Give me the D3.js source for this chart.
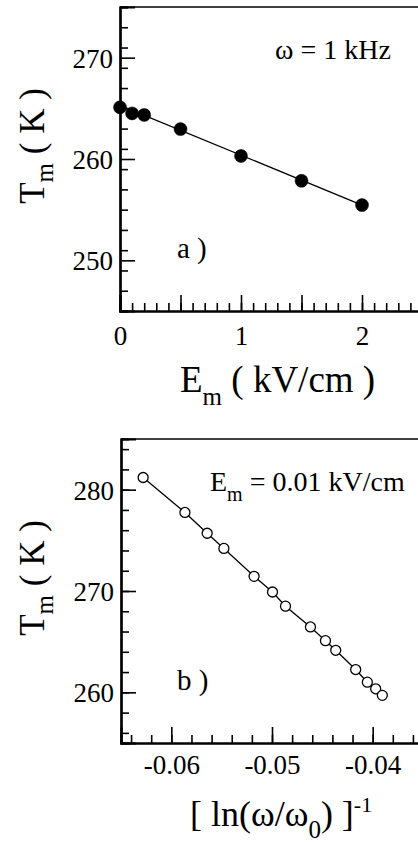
<!DOCTYPE html>
<html>
<head>
<meta charset="utf-8">
<script src="https://cdn.jsdelivr.net/npm/d3@7/dist/d3.min.js"></script>
<style>
  html, body { margin: 0; padding: 0; background: #fff; }
  svg { display: block; }
</style>
</head>
<body>
<svg id="chart" width="418" height="842"></svg>
<script>
const FONT = "Liberation Serif";

// ---------- Panel a data ----------
const aField = [0, 0.1, 0.2, 0.5, 1.0, 1.5, 2.0];          // E_m (kV/cm)
const aTemp  = [265.1, 264.5, 264.35, 262.95, 260.3, 257.85, 255.45]; // T_m (K)
const aFitField = [0, 2.0];
const aFitTemp  = [265.3, 255.45];
const aXMajorTicks = [0, 0.5, 1, 1.5, 2, 2.5];
const aXLabels = [0, 1, 2];
const aYMajorTicks = [250, 260, 270];

// ---------- Panel b data ----------
const bInvLn = [-0.0628, -0.05865, -0.05644, -0.05478, -0.05178, -0.04995, -0.04866,
                -0.04618, -0.04469, -0.04367, -0.04169, -0.04053, -0.0397, -0.03904];
const bTemp  = [281.2, 277.75, 275.7, 274.2, 271.45, 269.9, 268.5,
                266.45, 265.1, 264.15, 262.25, 261.0, 260.35, 259.7];
const bXMajorTicks = [-0.06, -0.05, -0.04];
const bYMajorTicks = [260, 270, 280];

const svg = d3.select("#chart").style("font-family", FONT);

function range(a, b, step) {
  const out = [];
  const n = Math.round((b - a) / step);
  for (let i = 0; i <= n; i++) out.push(+(a + i * step).toFixed(6));
  return out;
}

function txt(sel) {
  return sel.style("font-family", FONT).attr("fill", "#000");
}

function drawPanel(p) {
  const g = svg.append("g");
  const x = d3.scaleLinear().domain(p.xDomain).range([p.left, p.right]);
  const y = d3.scaleLinear().domain(p.yDomain).range([p.bottom, p.top]);

  g.append("line").attr("x1", p.left).attr("x2", p.right)
    .attr("y1", p.top).attr("y2", p.top)
    .attr("stroke", "#000").attr("stroke-width", 1.6);

  const xMinor = d3.axisBottom(x).tickValues(p.xMinor).tickSize(-8).tickFormat("");
  const gxm = g.append("g").attr("transform", `translate(0,${p.bottom})`).call(xMinor);
  const xMajor = d3.axisBottom(x).tickValues(p.xMajor).tickSize(-16)
    .tickFormat(p.xFormat).tickPadding(p.xPad);
  const gx = g.append("g").attr("transform", `translate(0,${p.bottom})`).call(xMajor);

  const yMinor = d3.axisLeft(y).tickValues(p.yMinor).tickSize(-8).tickFormat("");
  const gym = g.append("g").attr("transform", `translate(${p.left},0)`).call(yMinor);
  const yMajor = d3.axisLeft(y).tickValues(p.yMajor).tickSize(-15).tickPadding(7)
    .tickFormat(d3.format("d"));
  const gy = g.append("g").attr("transform", `translate(${p.left},0)`).call(yMajor);

  [gxm, gx, gym, gy].forEach(ax => {
    ax.attr("font-family", FONT).attr("font-size", 27);
    ax.select(".domain").attr("stroke", "#000").attr("stroke-width", 2.2);
    ax.selectAll(".tick line").attr("stroke", "#000").attr("stroke-width", 1.6);
    ax.selectAll("text").style("font-family", FONT)
      .style("font-size", "27px").attr("fill", "#000");
  });
  gx.selectAll("text").attr("dy", "0.71em");
  gy.selectAll("text").attr("dy", "0.35em");

  const line = d3.line().x(d => x(d[0])).y(d => y(d[1]));
  g.append("path").datum(p.lineData).attr("d", line)
    .attr("fill", "none").attr("stroke", "#000").attr("stroke-width", 1.3);

  g.selectAll("circle.pt").data(p.points).enter().append("circle")
    .attr("class", "pt")
    .attr("cx", d => x(d[0])).attr("cy", d => y(d[1]))
    .attr("r", p.r)
    .attr("fill", p.filled ? "#000" : "#fff")
    .attr("stroke", "#000").attr("stroke-width", p.filled ? 0.5 : 1.3);

  return { x, y, g };
}

drawPanel({
  xDomain: [0, 2.5], yDomain: [245, 275],
  left: 120, right: 422.5, top: 7, bottom: 311,
  xMinor: range(0, 2.5, 0.1), xMajor: aXMajorTicks,
  xFormat: d => aXLabels.includes(d) ? String(d) : "",
  xPad: 15,
  yMinor: range(245, 275, 2), yMajor: aYMajorTicks,
  lineData: aFitField.map((v, i) => [v, aFitTemp[i]]),
  points: aField.map((v, i) => [v, aTemp[i]]),
  r: 6.5, filled: true
});

drawPanel({
  xDomain: [-0.065, -0.035], yDomain: [255, 285],
  left: 121, right: 423, top: 439, bottom: 743,
  xMinor: range(-0.064, -0.036, 0.002), xMajor: bXMajorTicks,
  xFormat: d => d.toFixed(2),
  xPad: 12,
  yMinor: range(256, 284, 2), yMajor: bYMajorTicks,
  lineData: bInvLn.map((v, i) => [v, bTemp[i]]),
  points: bInvLn.map((v, i) => [v, bTemp[i]]),
  r: 5, filled: false
});

// ---------- Text ----------
function yTitle(cx, cy) {
  const t = txt(svg.append("text"))
    .attr("transform", `translate(${cx},${cy}) rotate(-90)`)
    .attr("text-anchor", "middle")
    .style("font-size", "35px");
  t.append("tspan").text("T");
  t.append("tspan").attr("dy", 9).style("font-size", "25px").text("m");
  t.append("tspan").attr("dy", -9).text("  ( K )");
}
yTitle(44, 146);
yTitle(44, 578);

{
  const t = txt(svg.append("text")).attr("x", 180).attr("y", 392).style("font-size", "37px");
  t.append("tspan").text("E");
  t.append("tspan").attr("dy", 13).style("font-size", "25px").text("m");
  t.append("tspan").attr("dy", -13).text("  ( kV/cm )");
}
{
  const t = txt(svg.append("text")).attr("x", 190).attr("y", 826).style("font-size", "36px");
  t.append("tspan").text("[ ln(ω/ω");
  t.append("tspan").attr("dy", 12).style("font-size", "25px").text("0");
  t.append("tspan").attr("dy", -12).text(") ]");
  t.append("tspan").attr("dy", -14).style("font-size", "22px").text("-1");
}

txt(svg.append("text")).attr("x", 275).attr("y", 59).style("font-size", "28px").text("ω = 1 kHz");
{
  const t = txt(svg.append("text")).attr("x", 210).attr("y", 491).style("font-size", "28px");
  t.append("tspan").text("E");
  t.append("tspan").attr("dy", 10).style("font-size", "20px").text("m");
  t.append("tspan").attr("dy", -10).text(" = 0.01 kV/cm");
}
txt(svg.append("text")).attr("x", 177).attr("y", 258).style("font-size", "29px").text("a )");
txt(svg.append("text")).attr("x", 177).attr("y", 690).style("font-size", "29px").text("b )");
</script>
</body>
</html>
